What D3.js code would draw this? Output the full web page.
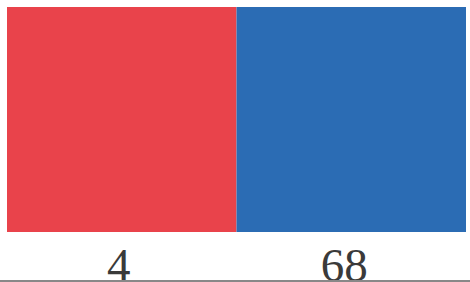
<!DOCTYPE html>
<html>
<head>
<meta charset="utf-8">
<script src="https://cdn.jsdelivr.net/npm/d3@7"></script>
<style>
  body { margin: 0; background: #fff; }
</style>
</head>
<body>
<svg id="chart" width="470" height="282"></svg>
<script>
// Data:
var labels = ["4", "68"];
var shares = [1, 1];
var colors = ["#e9434b", "#2b6cb4"];

var svg = d3.select("#chart");
var width = 470, height = 282;

// Scales:
var xScale = d3.scaleBand()
    .domain(labels)
    .range([7, 466])
    .padding(0);

var yScale = d3.scaleLinear()
    .domain([0, 1])
    .range([232, 7]);

// Bars:
svg.selectAll("rect.bar")
    .data(labels)
    .enter()
    .append("rect")
    .attr("class", "bar")
    .attr("x", function (d) { return xScale(d); })
    .attr("y", function (d, i) { return yScale(shares[i]); })
    .attr("width", xScale.bandwidth())
    .attr("height", function (d, i) { return yScale(0) - yScale(shares[i]); })
    .attr("fill", function (d, i) { return colors[i]; });

// Labels (a bit left of the bar centre, like the scan):
svg.selectAll("text.lbl")
    .data(labels)
    .enter()
    .append("text")
    .attr("class", "lbl")
    .attr("x", function (d) { return xScale(d) + xScale.bandwidth() / 2; })
    .attr("dx", function (d, i) { return i == 0 ? -3 : -7; })
    .attr("y", 281)
    .attr("text-anchor", "middle")
    .attr("font-family", "Liberation Serif, DejaVu Serif, serif")
    .attr("font-size", 47)
    .attr("fill", "#3a3a3a")
    .text(function (d) { return d; });

// bottom rule
svg.append("line")
    .attr("x1", 0).attr("x2", width)
    .attr("y1", 281).attr("y2", 281)
    .attr("stroke", "#888")
    .attr("stroke-width", 2);
</script>
</body>
</html>
